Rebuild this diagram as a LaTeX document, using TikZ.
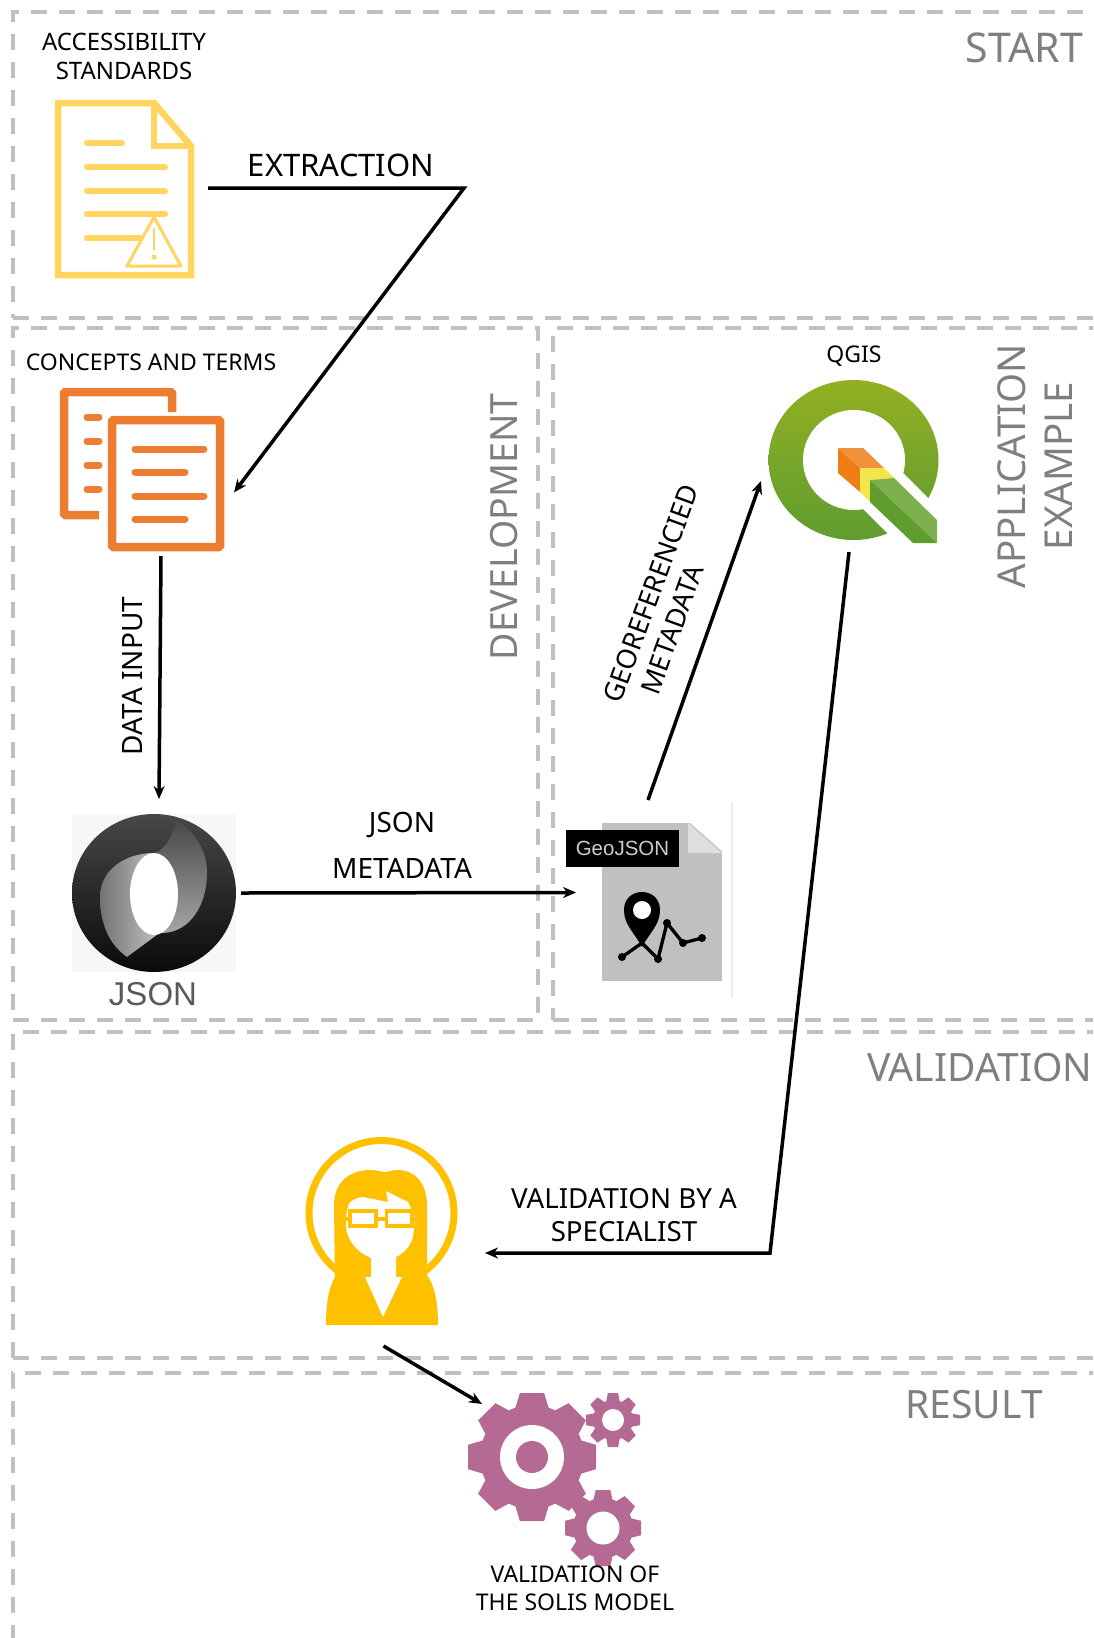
\documentclass[tikz,border=0pt]{standalone}
\usepackage{fontspec}
\setmainfont{Noto Sans}
\newfontfamily\arialfont{Liberation Sans}
\usetikzlibrary{arrows.meta}
\definecolor{panelgray}{HTML}{C0C0C0}
\definecolor{titlegray}{HTML}{7F7F7F}
\definecolor{docyellow}{HTML}{FFD45F}
\definecolor{docorange}{HTML}{ED7D31}
\definecolor{personyellow}{HTML}{FFC000}
\definecolor{gearpink}{HTML}{B46A92}
\definecolor{qgistop}{HTML}{93B023}
\definecolor{qgisbottom}{HTML}{5F9C2F}
\definecolor{pencillight}{HTML}{7FB04F}
\definecolor{pencildark}{HTML}{5E9E2E}
\definecolor{pencilorange}{HTML}{F07C16}
\definecolor{pencilpeach}{HTML}{F0913C}
\definecolor{pencilyellow}{HTML}{F2E64A}
\begin{document}
\begin{tikzpicture}[x=1pt,y=-1pt,>={Stealth[length=13pt,width=11pt]},
panel/.style={
% The dashes:
rectangle,
draw=panelgray,
line width=3.5pt,
dash pattern=on 16pt off 12pt,
anchor=north west,
inner sep=0pt,
outer sep=0pt
},
iconbox/.style={
rectangle,
inner sep=0pt,
outer sep=0pt
},
coord/.style={
coordinate
},
title/.style={
text=titlegray,
inner sep=0pt,
align=center,
font=\fontsize{39}{47}\selectfont
},
caption/.style={
inner sep=0pt,
align=center,
font=\fontsize{23}{28}\selectfont
},
link/.style={
line width=3.5pt
}
]
\clip (0,0) rectangle (1093,1638);
% Panels:
\node (startpanel) [panel,minimum width=1110pt,minimum height=306pt] at (13,12) {};
\node (devpanel) [panel,minimum width=525pt,minimum height=692pt] at (13,328) {};
\node (apppanel) [panel,minimum width=560pt,minimum height=692pt] at (553,328) {};
\node (valpanel) [panel,minimum width=1110pt,minimum height=326pt] at (13,1032) {};
\node (respanel) [panel,minimum width=1110pt,minimum height=300pt] at (13,1373) {};
% Icon boxes, the connectors run between them:
\node (standards) [iconbox,minimum width=139pt,minimum height=178pt] at (124.5,189) {};
\node (concepts) [iconbox,minimum width=164pt,minimum height=163pt] at (142,469.5) {};
\node (json) [iconbox,fill=black!3,minimum width=164pt,minimum height=158pt] at (154,893) {};
\node (geojson) [iconbox,fill=panelgray,minimum width=120pt,minimum height=158pt] at (662,902) {};
\node (qgis) [iconbox,minimum width=170pt,minimum height=162pt] at (853,460) {};
\node (specialist) [iconbox,minimum width=151pt,minimum height=190pt] at (381.5,1232) {};
\node (model) [iconbox,minimum width=173pt,minimum height=173pt] at (554.5,1479.5) {};
\node (extractbend) [coord] at (464,188) {};
\node (validbend) [coord] at (770,1253) {};
% Accessibility document:
\draw[docyellow,line width=6.5pt,fill=white] (58,103) -- (154,103) -- (191,146) -- (191,275) -- (58,275) -- cycle;
\draw[docyellow,line width=6pt] (154,103) -- (154,146) -- (191,146);
\foreach \ly/\lx in {143/122,167/165,191/165,214/165,238/140}
\draw[docyellow,line width=6pt,line cap=round] (87,\ly) -- (\lx,\ly);
\draw[docyellow,line width=3pt,fill=white,line join=round] (154,217) -- (181,266) -- (127,266) -- cycle;
\draw[docyellow,line width=2.5pt] (154,228) -- (154,250);
\fill[docyellow] (154,257) circle (2.5);
% Concepts documents:
\draw[docorange,line width=8.5pt,rounded corners=1.5pt] (99,515) -- (64,515) -- (64,392) -- (172,392) -- (172,412);
\foreach \ly in {417,441,465,489}
\draw[docorange,line width=7pt,line cap=round] (87,\ly) -- (99,\ly);
\draw[docorange,line width=8.5pt,rounded corners=1.5pt] (112,420) rectangle (220,547);
\foreach \ly/\lx in {449/204,472/185,496/204,519/185}
\draw[docorange,line width=7pt,line cap=round] (135,\ly) -- (\lx,\ly);
% JSON logo:
\shade[top color=black!72,bottom color=black!96] (154,893) ellipse (82 and 79);
\shade[top color=black!72,bottom color=black!35] (176,820) .. controls (195,832) and (207,850) .. (207,873) .. controls (207,905) and (190,932) .. (163,933) -- (154,933) -- (154,853) .. controls (165,850) and (172,838) .. (176,820) -- cycle;
\shade[left color=black!55,right color=black!25] (154,853) .. controls (125,853) and (100,870) .. (100,897) .. controls (100,925) and (110,945) .. (127,957) -- (158,934) -- cycle;
\fill[white] (154,894) ellipse (24 and 41);
\node (jsonname) [inner sep=0pt,text=black!65,font=\arialfont\fontsize{33}{33}\selectfont] at (153,994) {JSON};
% GeoJSON file:
\fill[white] (688,821) -- (724,821) -- (724,853) -- cycle;
\fill[black!13] (688,823) -- (722,853) -- (688,853) -- cycle;
\draw[black!8,line width=1.5pt] (732,802) -- (732,998);
\node (geotag) [iconbox,fill=black,text=black!20,minimum width=113pt,minimum height=37pt,font=\arialfont\fontsize{20.5}{20.5}\selectfont] at (622.5,848.5) {GeoJSON};
\draw[line width=3.3pt] (622,957) -- (642,943) -- (658,959) -- (667,923) -- (683,943) -- (702,938);
\foreach \dx/\dy in {622/957,658/959,667/923,683/943,702/938}
\fill[black] (\dx,\dy) circle (4);
\fill[black] (642,947) .. controls (634,932) and (624,925) .. (624,910) .. controls (624,886) and (660,886) .. (660,910) .. controls (660,925) and (650,932) .. (642,947) -- cycle;
\fill[white] (642,910) circle (9);
% QGIS logo:
\shade[top color=qgistop,bottom color=qgisbottom] (853.5,460) ellipse (85 and 80);
\fill[white] (854,460) ellipse (51 and 50);
\fill[white] (880,450) -- (950,520) -- (950,560) -- (914,560) -- (840,486) -- cycle;
\fill[pencilorange] (838,448) -- (860,468) -- (860,492) -- (838,473) -- cycle;
\fill[pencilpeach] (838,448) -- (863,448) -- (884,468) -- (860,468) -- cycle;
\fill[pencilyellow] (860,468) -- (884,468) -- (894,478) -- (870,480) -- (870,502) -- (860,492) -- cycle;
\fill[pencillight] (870,480) -- (894,478) -- (937,520) -- (937,543) -- cycle;
\fill[pencildark] (870,480) -- (937,543) -- (913,543) -- (870,502) -- cycle;
% Specialist:
\draw[personyellow,line width=7pt] (381.5,1213) circle (72.5);
\fill[personyellow] (335,1285) -- (334,1205) .. controls (334,1182) and (350,1170) .. (370,1170) .. controls (378,1170) and (380,1172) .. (384,1172) .. controls (388,1172) and (392,1170) .. (398,1170) .. controls (416,1170) and (427,1185) .. (427,1205) -- (427,1285) -- cycle;
\fill[personyellow] (326,1325) .. controls (326,1300) and (330,1285) .. (335,1277) -- (427,1275) .. controls (434,1285) and (438,1300) .. (438,1325) -- cycle;
\fill[white] (346,1225) .. controls (346,1214) and (347,1208) .. (350,1202) .. controls (355,1199) and (359,1197) .. (363,1197) -- (388,1202) -- (386,1191) -- (408,1202) -- (415,1217) -- (413,1237) .. controls (410,1247) and (404,1253) .. (396,1257) -- (396,1277) -- (402,1277) -- (383,1317) -- (365,1277) -- (371,1277) -- (371,1258) .. controls (358,1253) and (346,1240) .. (346,1225) -- cycle;
\draw[personyellow,line width=3.5pt] (350,1211) rectangle (376,1226);
\draw[personyellow,line width=3.5pt] (386.5,1211) rectangle (412,1226);
\draw[personyellow,line width=4pt] (376,1218.5) -- (386.5,1218.5);
\draw[personyellow,line width=4pt] (345,1218.5) -- (350,1218.5);
\draw[personyellow,line width=4pt] (412,1218.5) -- (417,1218.5);
% Gears:
\foreach \cx/\cy/\ro/\ri/\rh in {532/1457/64/52/32,613/1420/27/20/11,603/1528/38/30/16.5}{
\fill[gearpink] (\cx,\cy) circle (\ri);
\foreach \a in {0,45,...,315}
\fill[gearpink,shift={(\cx,\cy)},rotate=\a] ({\ri-3},{-.26*\ro}) -- (\ro,{-.19*\ro}) -- (\ro,{.19*\ro}) -- ({\ri-3},{.26*\ro}) -- cycle;
\fill[white] (\cx,\cy) circle (\rh);
}
\fill[gearpink] (532,1457) circle (16);
% Labels:
\node (starttitle) [title,anchor=east,font=\fontsize{41}{47}\selectfont] at (1083,48) {START};
\node (devtitle) [title,rotate=90,font=\fontsize{37.5}{47}\selectfont] at (504,527) {DEVELOPMENT};
\node (apptitle) [title,rotate=90,font=\fontsize{38.5}{47}\selectfont] at (1035,466) {APPLICATION\\EXAMPLE};
\node (valtitle) [title,anchor=east] at (1092.5,1068) {VALIDATION};
\node (restitle) [title,anchor=east] at (1043,1405) {RESULT};
\node (standardslabel) [caption,font=\fontsize{24}{29}\selectfont] at (124,56.5) {ACCESSIBILITY\\STANDARDS};
\node (conceptslabel) [caption] at (151,362) {CONCEPTS AND TERMS};
\node (qgislabel) [caption] at (854,356) {QGIS};
\node (extractlabel) [caption,font=\fontsize{31}{36}\selectfont] at (341,165) {EXTRACTION};
\node (inputlabel) [caption,font=\fontsize{28}{30}\selectfont,rotate=90] at (133,676) {DATA INPUT};
\node (metalabel) [caption,font=\fontsize{28}{46}\selectfont] at (402,845) {JSON\\METADATA};
\node (geolabel) [caption,font=\fontsize{27}{32}\selectfont,rotate=70,align=left] at (666,599) {GEOREFERENCIED\\\hspace*{21pt}METADATA};
\node (speclabel) [caption,font=\fontsize{27.7}{33}\selectfont] at (624,1215) {VALIDATION BY A\\SPECIALIST};
\node (modellabel) [caption] at (575,1588) {VALIDATION OF\\THE SOLIS MODEL};
% Connectors:
\draw[link,->] ([shift={(14,-1)}]standards.east) -- (extractbend) -- ([shift={(10,23)}]concepts.east);
\draw[link,->] ([shift={(19,5)}]concepts.south) -- ([shift={(5,-15)}]json.north);
\draw[link,->] ([shift={(5,0)}]json.east) -- ([shift={(-26,-9.5)}]geojson.west);
\draw[link,->] ([shift={(-14,-23)}]geojson.north) -- ([shift={(-7,21)}]qgis.west);
\draw[link,->] ([shift={(-4,11)}]qgis.south) -- (validbend) -- ([shift={(28,21)}]specialist.east);
\draw[link,->] ([shift={(2,19)}]specialist.south) -- ([shift={(14,11)}]model.north west);
\end{tikzpicture}
\end{document}
